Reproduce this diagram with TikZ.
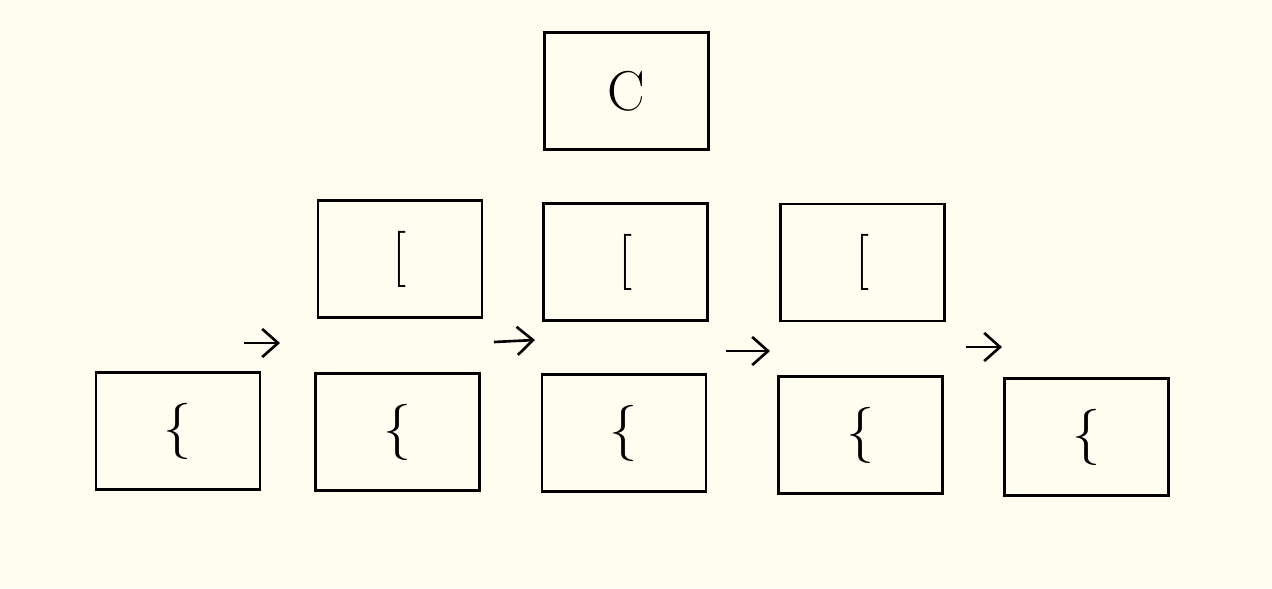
\documentclass[tikz,border=0pt]{standalone}
\usepackage{amsmath,amssymb}
\usepackage{xcolor}
\usepackage{tikz}
\usetikzlibrary{arrows.meta}

\definecolor{paper}{RGB}{255,253,240}

\begin{document}
\begin{tikzpicture}[line width=0.75pt, >={Straight Barb[length=4.5pt,width=8pt]},
    box/.style={draw, rectangle, minimum width=1.64cm, minimum height=1.17cm, inner sep=0pt, font=\fontsize{16}{18}\selectfont}]
      \fill[paper] (0,0) rectangle (12.72,5.88);
      \useasboundingbox (0,0) rectangle (12.72,5.88);
      % top
      \node[box] (top) at (6.265,4.97) {C};
      % middle row
      \node[box] (mida) at (4.00,3.29) {[};
      \node[box] (midb) at (6.255,3.26) {[};
      \node[box] (midc) at (8.625,3.255) {[};
      % bottom row
      \node[box] (lowa) at (1.78,1.57) {\{};
      \node[box] (lowb) at (3.975,1.56) {\{};
      \node[box] (lowc) at (6.24,1.55) {\{};
      \node[box] (lowd) at (8.605,1.53) {\{};
      \node[box] (lowe) at (10.865,1.51) {\{};
      % arrows
      \coordinate (s1) at (2.44,2.45);  \coordinate (t1) at (2.80,2.45);
      \coordinate (s2) at (4.94,2.46);  \coordinate (t2) at (5.35,2.48);
      \coordinate (s3) at (7.26,2.37);  \coordinate (t3) at (7.70,2.37);
      \coordinate (s4) at (9.66,2.41);  \coordinate (t4) at (10.02,2.41);
      \draw[->] (s1) -- (t1);
      \draw[->] (s2) -- (t2);
      \draw[->] (s3) -- (t3);
      \draw[->] (s4) -- (t4);
\end{tikzpicture}
\end{document}
